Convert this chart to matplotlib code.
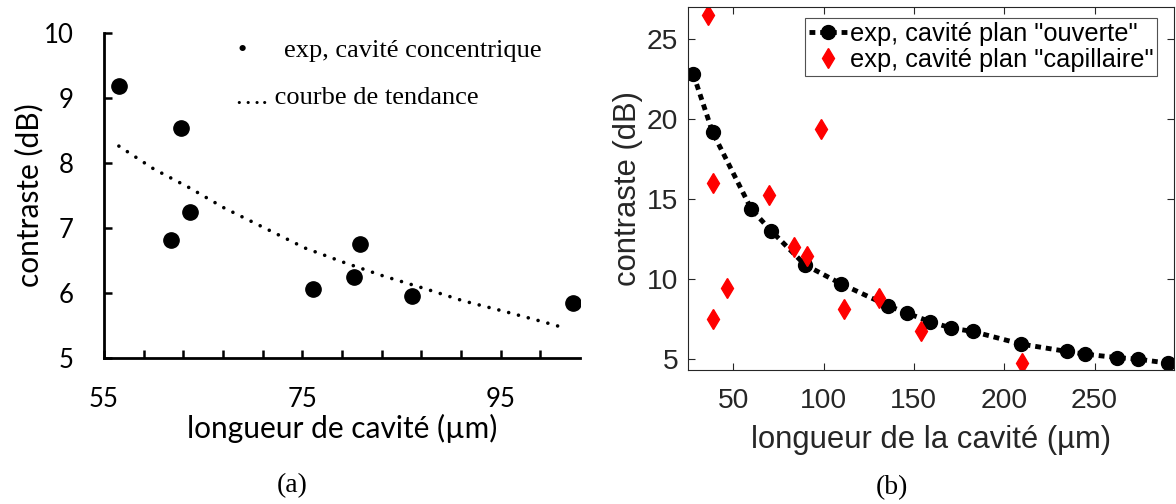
import matplotlib.pyplot as plt

# (a) cavité concentrique
xa_pts = [56.5, 62.8, 61.8, 63.7, 76.1, 80.25, 80.8, 86.1, 102.3]
ya_pts = [9.19, 8.54, 6.81, 7.25, 6.06, 6.24, 6.76, 5.96, 5.85]
# courbe de tendance
xa_trend = [56.5, 60.0, 63.6, 67.1, 71.2, 75.3, 79.2, 83.2, 87.3, 91.2, 95.3, 99.2, 101.5]
ya_trend = [8.26, 7.91, 7.62, 7.31, 7.00, 6.69, 6.47, 6.26, 6.07, 5.88, 5.72, 5.56, 5.46]
xa_ticks = [55, 59, 63, 67, 71, 75, 79, 83, 87, 91, 95, 99]
xa_labels = ['55', '', '', '', '', '75', '', '', '', '', '95', '']
ya_ticks = [5, 6, 7, 8, 9, 10]

# (b) cavité plan
xb_ouv = [27.9, 38.6, 60.1, 70.9, 89.7, 109.7, 135.5, 146.3, 158.9, 170.7,
          182.6, 209.5, 234.7, 245.0, 262.2, 274.0, 290.5]
yb_ouv = [22.81, 19.17, 14.35, 13.02, 10.88, 9.69, 8.33, 7.85, 7.33, 6.92,
          6.71, 5.92, 5.46, 5.29, 5.08, 4.98, 4.73]
xb_cap = [36.0, 39.0, 39.0, 46.5, 70.0, 83.7, 90.7, 98.8, 111.2, 130.8, 153.9, 209.9]
yb_cap = [26.5, 16.02, 7.5, 9.42, 15.25, 12.02, 11.4, 19.35, 8.1, 8.79, 6.75, 4.73]
xb_ticks = [50, 100, 150, 200, 250]
yb_ticks = [5, 10, 15, 20, 25]

W, H = 1176, 504
fig = plt.figure(figsize=(W / 100, H / 100), dpi=100)

calib = ['Lato', 'DejaVu Sans']
times = 'Liberation Serif'
arial = 'Liberation Sans'
grey = '#262626'

# ---------- (a)
ax = fig.add_axes([104 / W, 1 - 358 / H, (580 - 104) / W, (358 - 33) / H])
ax.plot(xa_trend, ya_trend, color='black', lw=2.6, ls=(0, (0.01, 2.8)),
        dash_capstyle='round')
ax.plot(xa_pts, ya_pts, 'o', color='black', ms=11)
ax.set_xlim(55, 103)
ax.set_ylim(5, 10)
for s in ['top', 'right']:
    ax.spines[s].set_visible(False)
for s in ['left', 'bottom']:
    ax.spines[s].set_linewidth(2)
ax.set_xticks(xa_ticks)
ax.set_xticklabels(xa_labels, family=calib, fontsize=18.5)
ax.set_yticks(ya_ticks)
ax.set_yticklabels([str(v) for v in ya_ticks], family=calib, fontsize=18.5)
ax.tick_params(axis='both', direction='in', length=6, width=1.8)
ax.tick_params(axis='x', pad=21)
ax.tick_params(axis='y', pad=22)
ax.set_xlabel('longueur de cavité (µm)', family=calib, fontsize=21.5, va='center')
ax.xaxis.set_label_coords(0.5, (358 - 428) / 325)
ax.set_ylabel('contraste (dB)', family=calib, fontsize=21.5, va='center')
ax.yaxis.set_label_coords((29 - 104) / 476, 0.5)

# pseudo-légende en texte, comme dans l'original
fig.text(242 / W, 1 - 51 / H, '•', family=times, fontsize=19, ha='center', va='center')
fig.text(284 / W, 1 - 51 / H, 'exp, cavité concentrique', family=times, fontsize=19,
         ha='left', va='center')
fig.text(235 / W, 1 - 98 / H, '…. courbe de tendance', family=times, fontsize=19,
         ha='left', va='center')
fig.text(292 / W, 1 - 486 / H, '(a)', family=times, fontsize=20, ha='center', va='center')

# ---------- (b)
bx = fig.add_axes([688 / W, 1 - 370 / H, (1174 - 688) / W, (370 - 7) / H])
bx.plot(xb_ouv, yb_ouv, color='black', lw=3.5, ls=(0, (1.2, 1.0)),
        marker='o', ms=10, label='exp, cavité plan "ouverte"')
bx.plot(xb_cap, yb_cap, 'd', color='red', ms=10, label='exp, cavité plan "capillaire"')
bx.set_xlim(25, 294)
bx.set_ylim(4.3, 27)
bx.set_xticks(xb_ticks)
bx.set_yticks(yb_ticks)
for s in bx.spines.values():
    s.set_color(grey)
    s.set_linewidth(0.8)
bx.tick_params(axis='both', direction='in', length=5, width=0.8, color=grey,
               labelcolor=grey, labelsize=20.3, top=True, right=True)
bx.tick_params(axis='x', pad=13)
bx.tick_params(axis='y', pad=7)
for lab in bx.get_xticklabels() + bx.get_yticklabels():
    lab.set_family(arial)
bx.set_xlabel('longueur de la cavité (µm)', family=arial, fontsize=22.3, color=grey,
              va='center')
bx.xaxis.set_label_coords(0.5, (370 - 440) / 363)
bx.set_ylabel('contraste (dB)', family=arial, fontsize=22.3, color=grey, va='center')
bx.yaxis.set_label_coords((628 - 688) / 486, 0.5)
leg = bx.legend(loc='upper right', bbox_to_anchor=((1157 - 688) / 486, 1 - 11 / 363),
                borderaxespad=0, prop={'family': arial, 'size': 18.3}, frameon=True,
                fancybox=False, handlelength=1.5, handletextpad=0.1, borderpad=0.15,
                labelspacing=0.1)
leg.get_frame().set_edgecolor(grey)
leg.get_frame().set_linewidth(0.8)

fig.text(892 / W, 1 - 488 / H, '(b)', family=times, fontsize=20, ha='center', va='center')

fig.savefig('out.png', dpi=100)
